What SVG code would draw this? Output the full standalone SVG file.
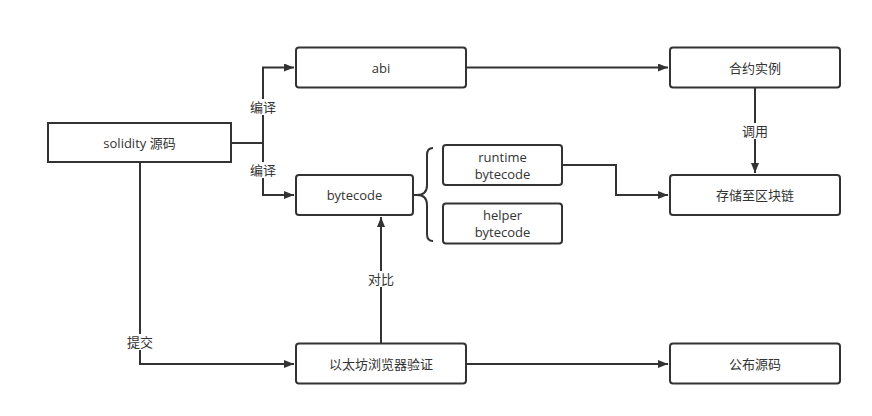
<svg xmlns="http://www.w3.org/2000/svg" width="872" height="416" viewBox="0 0 872 416">
<defs>
<style>
.box{fill:#fff;stroke:#333;stroke-width:2}
.t{font-family:"Open Sans","Noto Sans CJK SC",sans-serif;font-size:13px;fill:#333;text-anchor:middle;dominant-baseline:central}
.c{fill:none;stroke:#333;stroke-width:2}
.lbl{fill:#fff}
</style>
<marker id="ah" viewBox="0 0 10 8" refX="10" refY="4" markerWidth="10" markerHeight="8" markerUnits="userSpaceOnUse" orient="auto">
<path d="M0,0 L10,4 L0,8 Z" fill="#333"/>
</marker>
</defs>
<rect width="872" height="416" fill="#fff"/>
<g id="connectors">
<path class="c" d="M232,143 H263 V67.5 H294" marker-end="url(#ah)"/>
<path class="c" d="M263,143 V195 H294" marker-end="url(#ah)"/>
<path class="c" d="M466,67.5 H668" marker-end="url(#ah)"/>
<path class="c" d="M755,88 V173" marker-end="url(#ah)"/>
<path class="c" d="M562,165 H616 V195 H668" marker-end="url(#ah)"/>
<path class="c" d="M140,163 V364 H294" marker-end="url(#ah)"/>
<path class="c" d="M381,343.5 V217" marker-end="url(#ah)"/>
<path class="c" d="M466,364 H668" marker-end="url(#ah)"/>
<path class="c" d="M414,195 H417 Q427,195 427,185 V155 Q427,148 433,148 M417,195 Q427,195 427,205 V234 Q427,241 433,241"/>
<rect class="lbl" x="249" y="99" width="28" height="16"/>
<text class="t" x="263" y="107">编译</text>
<rect class="lbl" x="249" y="162" width="28" height="16"/>
<text class="t" x="263" y="170">编译</text>
<rect class="lbl" x="741" y="123" width="28" height="16"/>
<text class="t" x="755" y="131">调用</text>
<rect class="lbl" x="367" y="271" width="28" height="16"/>
<text class="t" x="381" y="279">对比</text>
<rect class="lbl" x="126" y="334" width="28" height="16"/>
<text class="t" x="140" y="342">提交</text>
</g>
<g id="solidity">
<rect class="box" x="48" y="123" width="183" height="39"/>
<text class="t" x="139.5" y="143">solidity 源码</text>
</g>
<g id="abi">
<rect class="box" x="296" y="47.5" width="170" height="40" rx="3"/>
<text class="t" x="381" y="67.5">abi</text>
</g>
<g id="bytecode">
<rect class="box" x="296" y="175" width="117" height="40" rx="3"/>
<text class="t" x="354.5" y="195">bytecode</text>
</g>
<g id="runtime">
<rect class="box" x="443" y="145" width="119" height="40" rx="3"/>
<text class="t" x="502.5" y="156.5"><tspan x="502.5">runtime</tspan><tspan x="502.5" dy="17">bytecode</tspan></text>
</g>
<g id="helper">
<rect class="box" x="443" y="203.5" width="119" height="40" rx="3"/>
<text class="t" x="502.5" y="215"><tspan x="502.5">helper</tspan><tspan x="502.5" dy="17">bytecode</tspan></text>
</g>
<g id="instance">
<rect class="box" x="670" y="47.5" width="170" height="40" rx="3"/>
<text class="t" x="755" y="67.5">合约实例</text>
</g>
<g id="store">
<rect class="box" x="670" y="175" width="170" height="40" rx="3"/>
<text class="t" x="755" y="195">存储至区块链</text>
</g>
<g id="verify">
<rect class="box" x="296" y="343.5" width="170" height="40" rx="3"/>
<text class="t" x="381" y="363.5">以太坊浏览器验证</text>
</g>
<g id="publish">
<rect class="box" x="670" y="343.5" width="170" height="40" rx="3"/>
<text class="t" x="755" y="363.5">公布源码</text>
</g>
</svg>
